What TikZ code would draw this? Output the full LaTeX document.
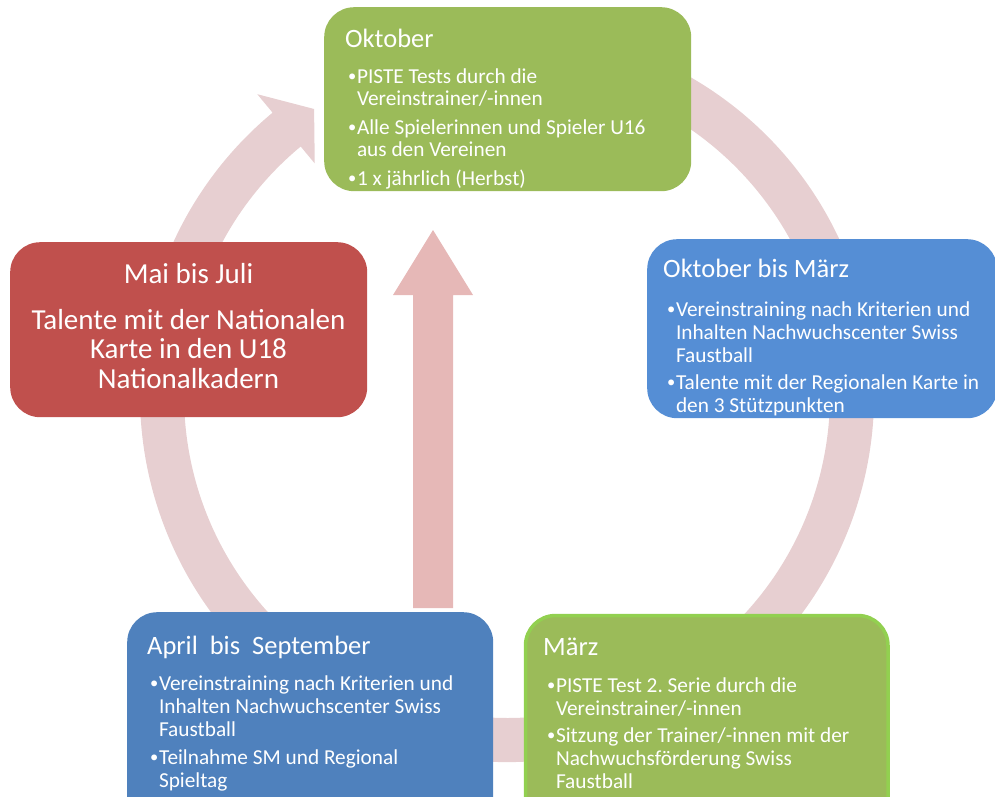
\documentclass[tikz,border=0pt]{standalone}
\usepackage{fontspec}
\setmainfont{Carlito}
\usetikzlibrary{calc}

\definecolor{boxgreen}{RGB}{155,187,89}
\definecolor{boxblue}{RGB}{85,142,213}
\definecolor{boxnavy}{RGB}{79,129,189}
\definecolor{boxred}{RGB}{192,80,77}
\definecolor{marchline}{RGB}{146,208,80}
\definecolor{ringpink}{RGB}{231,207,209}
\definecolor{arrowpink}{RGB}{230,184,183}

\newcommand\bl{\makebox[9.3pt][l]{\hspace{0.5pt}\raisebox{1.5pt}{\fontsize{16.5}{16.5}\selectfont •}}}
\newcommand\ind{\hspace*{9.3pt}}

% multi-line text nodes are placed by the baseline of their last line
\tikzset{
  card/.style={rounded corners=30pt, inner sep=0pt, anchor=north west},
  ttl/.style={text=white, inner sep=0pt, anchor=base west, font=\fontsize{26.5}{30}\selectfont},
  txt/.style={text=white, inner sep=0pt, anchor=base west, align=left, font=\fontsize{21.3}{23}\selectfont},
  bigtxt/.style={text=white, inner sep=0pt, anchor=base, align=center, font=\fontsize{29}{29.5}\selectfont}
}

\begin{document}
\frenchspacing
\begin{tikzpicture}[x=1pt,y=-1pt]
\useasboundingbox (0,0) rectangle (995,796);
\clip (0,0) rectangle (995,796);

% circular cycle band with its head pointing at the first stage
\coordinate (C) at (507,395);
\fill[ringpink] ($(C)+(-110:367)$) arc[start angle=-110, end angle=230.3, radius=367]
  -- ($(C)+(230.3:391)$) -- ($(C)+(236:345)$) -- ($(C)+(230.3:301)$)
  -- ($(C)+(230.3:323)$) arc[start angle=230.3, end angle=-110, radius=323] -- cycle;

% central upward arrow
\coordinate (upbase) at (433,608);
\coordinate (uptip) at (433,230);
\fill[arrowpink] ($(upbase)+(-20,0)$) -- ($(uptip)+(-20,65)$) -- ($(uptip)+(-40,65)$)
  -- (uptip) -- ($(uptip)+(40,65)$) -- ($(uptip)+(20,65)$) -- ($(upbase)+(20,0)$) -- cycle;

% stage cards
\node[card, fill=boxgreen, minimum width=367pt, minimum height=184pt] (oct) at (324,7) {};
\node[card, fill=boxblue, minimum width=350pt, minimum height=179pt] (octmar) at (647,239) {};
\node[card, fill=boxnavy, minimum width=366pt, minimum height=220pt] (aprsep) at (127,612) {};
\node[card, fill=boxgreen, draw=marchline, line width=3.5pt, minimum width=362.5pt, minimum height=220pt] (mar) at (523.75,613.75) {};
\node[card, fill=boxred, minimum width=357pt, minimum height=175pt] (maijul) at (10,242) {};

% Oktober
\node[ttl] (oct-t) at (345,47) {Oktober};
\node[txt, font=\fontsize{21.3}{22.5}\selectfont] (oct-b) at (347.5,185) {\bl PISTE Tests durch die\\\ind Vereinstrainer/-innen\\[6pt]\bl Alle Spielerinnen und Spieler U16\\\ind aus den Vereinen\\[6pt]\bl 1 x jährlich (Herbst)};

% Oktober bis März
\node[ttl] (octmar-t) at (663,277) {Oktober bis März};
\node[txt] (octmar-b) at (666.5,412) {\bl Vereinstraining nach Kriterien und\\\ind Inhalten Nachwuchscenter Swiss\\\ind Faustball\\[4pt]\bl Talente mit der Regionalen Karte in\\\ind den 3 Stützpunkten};

% April bis September
\node[ttl] (aprsep-t) at (147,654) {April~ bis~ September};
\node[txt] (aprsep-b) at (149.5,787) {\bl Vereinstraining nach Kriterien und\\\ind Inhalten Nachwuchscenter Swiss\\\ind Faustball\\[5pt]\bl Teilnahme SM und Regional\\\ind Spieltag};

% März
\node[ttl] (mar-t) at (543,655) {März};
\node[txt] (mar-b) at (546.5,788) {\bl PISTE Test 2. Serie durch die\\\ind Vereinstrainer/-innen\\[4pt]\bl Sitzung der Trainer/-innen mit der\\\ind Nachwuchsförderung Swiss\\\ind Faustball};

% Mai bis Juli
\node[bigtxt] (maijul-t) at (188.5,388) {Mai bis Juli\\[16.5pt]Talente mit der Nationalen\\Karte in den U18\\Nationalkadern};
\end{tikzpicture}
\end{document}
